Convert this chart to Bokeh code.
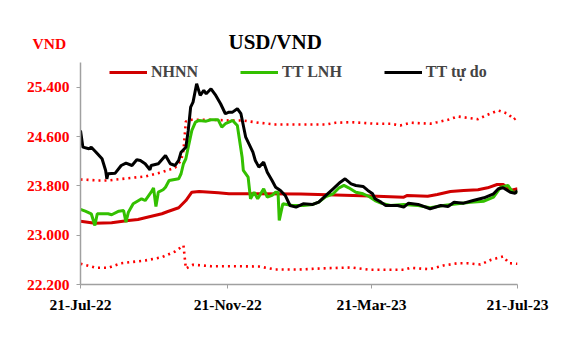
import pandas as pd
from bokeh.plotting import figure
from bokeh.models import FixedTicker, Legend, LegendItem, Range1d, Title
from bokeh.embed import file_html
from bokeh.resources import INLINE

START = "2022-07-21"

# NHNN (central rate)
nhnn_dates = ["2022-07-21", "2022-08-02", "2022-08-16", "2022-08-30", "2022-09-07", "2022-09-13",
              "2022-09-27", "2022-10-02", "2022-10-11", "2022-10-17", "2022-10-22", "2022-10-28",
              "2022-11-13", "2022-11-22", "2023-01-21", "2023-03-20", "2023-04-17", "2023-04-20",
              "2023-05-07", "2023-05-15", "2023-05-26", "2023-06-06", "2023-06-18", "2023-06-26",
              "2023-07-04", "2023-07-09", "2023-07-15", "2023-07-21"]
nhnn_vals = [23227, 23194, 23201, 23238, 23254, 23282, 23347, 23384, 23444, 23562, 23697, 23708,
             23687, 23671, 23668, 23635, 23616, 23644, 23632, 23660, 23708, 23725, 23736, 23768,
             23822, 23822, 23725, 23752]

# Upper band (dotted)
upper_dates = ["2022-07-21", "2022-08-05", "2022-08-13", "2022-08-30", "2022-09-13", "2022-09-27",
               "2022-10-08", "2022-10-13", "2022-10-15", "2022-10-17", "2022-10-22", "2022-11-07",
               "2022-11-22", "2022-12-03", "2022-12-17", "2022-12-31", "2023-02-11", "2023-02-19",
               "2023-03-04", "2023-03-24", "2023-04-06", "2023-04-14", "2023-04-23", "2023-05-09",
               "2023-05-15", "2023-05-24", "2023-06-01", "2023-06-09", "2023-06-18", "2023-06-26",
               "2023-07-05", "2023-07-13", "2023-07-18", "2023-07-21"]
upper_vals = [23903, 23887, 23887, 23924, 23952, 24022, 24093, 24211, 24373, 24844, 24871, 24871,
              24860, 24860, 24823, 24795, 24795, 24823, 24832, 24807, 24807, 24779, 24823, 24807,
              24832, 24871, 24925, 24904, 24881, 24953, 25022, 24969, 24876, 24925]

# Lower band (dotted)
lower_dates = ["2022-07-21", "2022-08-03", "2022-08-13", "2022-08-24", "2022-09-13", "2022-09-27",
               "2022-10-08", "2022-10-15", "2022-10-17", "2022-10-23", "2022-11-07", "2022-11-22",
               "2022-12-17", "2022-12-31", "2023-01-19", "2023-02-11", "2023-03-04", "2023-03-20",
               "2023-04-17", "2023-04-23", "2023-05-08", "2023-05-20", "2023-06-01", "2023-06-09",
               "2023-06-20", "2023-06-29", "2023-07-09", "2023-07-14", "2023-07-21"]
lower_vals = [22536, 22471, 22471, 22545, 22589, 22643, 22735, 22833, 22460, 22520, 22497, 22497,
              22492, 22443, 22443, 22464, 22476, 22438, 22438, 22471, 22448, 22508, 22545, 22545,
              22524, 22601, 22654, 22545, 22536]

# TT LNH (interbank)
lnh_dates = ["2022-07-21", "2022-07-25", "2022-07-30", "2022-08-02", "2022-08-04", "2022-08-13",
             "2022-08-16", "2022-08-22", "2022-08-26", "2022-08-28", "2022-08-30", "2022-09-03",
             "2022-09-10", "2022-09-13", "2022-09-18", "2022-09-20", "2022-09-22", "2022-09-24",
             "2022-09-28", "2022-09-30", "2022-10-03", "2022-10-11", "2022-10-13", "2022-10-15",
             "2022-10-17", "2022-10-19", "2022-10-22", "2022-10-25", "2022-10-28", "2022-11-03",
             "2022-11-07", "2022-11-13", "2022-11-16", "2022-11-19", "2022-11-22", "2022-11-25",
             "2022-11-29", "2022-12-03", "2022-12-04", "2022-12-08", "2022-12-10", "2022-12-13",
             "2022-12-16", "2022-12-21", "2022-12-24", "2022-12-28", "2022-12-31", "2023-01-02",
             "2023-01-03", "2023-01-06", "2023-01-14", "2023-01-23", "2023-01-31", "2023-02-05",
             "2023-02-11", "2023-02-17", "2023-02-22", "2023-02-26", "2023-03-02", "2023-03-08",
             "2023-03-14", "2023-03-19", "2023-03-24", "2023-03-29", "2023-04-06", "2023-04-17",
             "2023-04-29", "2023-05-09", "2023-05-20", "2023-06-01", "2023-06-12", "2023-06-23",
             "2023-07-01", "2023-07-07", "2023-07-13", "2023-07-17", "2023-07-21"]
lnh_vals = [23417, 23389, 23347, 23157, 23347, 23347, 23331, 23389, 23400, 23211, 23373, 23509,
            23590, 23562, 23697, 23765, 23465, 23697, 23736, 23778, 23887, 23914, 23996, 24158,
            24239, 24427, 24698, 24832, 24860, 24849, 24871, 24871, 24751, 24807, 24832, 24860,
            24779, 24265, 24049, 23940, 23590, 23697, 23590, 23752, 23616, 23644, 23697, 23697,
            23238, 23509, 23481, 23481, 23498, 23535, 23627, 23671, 23768, 23806, 23768, 23697,
            23671, 23627, 23562, 23519, 23481, 23498, 23481, 23444, 23481, 23509, 23535, 23551,
            23616, 23778, 23806, 23697, 23697]

# TT tu do (free market)
free_dates = ["2022-07-21", "2022-07-23", "2022-07-28", "2022-07-30", "2022-08-03", "2022-08-08",
              "2022-08-11", "2022-08-12", "2022-08-13", "2022-08-19", "2022-08-24", "2022-08-28",
              "2022-09-02", "2022-09-06", "2022-09-09", "2022-09-13", "2022-09-17", "2022-09-18",
              "2022-09-24", "2022-09-30", "2022-10-04", "2022-10-08", "2022-10-11", "2022-10-13",
              "2022-10-17", "2022-10-19", "2022-10-21", "2022-10-23", "2022-10-26", "2022-10-29",
              "2022-11-01", "2022-11-03", "2022-11-07", "2022-11-11", "2022-11-15", "2022-11-19",
              "2022-11-22", "2022-11-25", "2022-11-29", "2022-12-02", "2022-12-06", "2022-12-12",
              "2022-12-14", "2022-12-17", "2022-12-21", "2022-12-24", "2022-12-28", "2022-12-31",
              "2023-01-04", "2023-01-08", "2023-01-12", "2023-01-17", "2023-01-23", "2023-01-31",
              "2023-02-05", "2023-02-11", "2023-02-17", "2023-02-23", "2023-02-27", "2023-03-04",
              "2023-03-08", "2023-03-14", "2023-03-18", "2023-03-22", "2023-03-24", "2023-03-29",
              "2023-04-02", "2023-04-12", "2023-04-17", "2023-04-21", "2023-04-29", "2023-05-09",
              "2023-05-18", "2023-05-24", "2023-05-29", "2023-06-06", "2023-06-14", "2023-06-23",
              "2023-07-01", "2023-07-05", "2023-07-09", "2023-07-15", "2023-07-19", "2023-07-21"]
free_vals = [24698, 24427, 24401, 24427, 24346, 24239, 24049, 23914, 23996, 24005, 24130, 24168,
             24130, 24223, 24211, 24158, 24060, 24130, 24158, 24292, 24158, 24130, 24211, 24346,
             24427, 24698, 25076, 25157, 25455, 25266, 25347, 25293, 25374, 25266, 25131, 24969,
             24995, 24995, 25050, 24969, 24589, 24346, 24211, 24103, 24184, 24022, 23887, 23778,
             23725, 23644, 23481, 23454, 23509, 23498, 23535, 23644, 23752, 23859, 23914, 23833,
             23806, 23790, 23725, 23671, 23590, 23535, 23481, 23481, 23454, 23519, 23498, 23428,
             23481, 23465, 23535, 23519, 23562, 23606, 23671, 23752, 23768, 23697, 23681, 23725]

x_tick_dates = ["2022-07-21", "2022-11-21", "2023-03-21", "2023-07-21"]
x_tick_labels = ["21-Jul-22", "21-Nov-22", "21-Mar-23", "21-Jul-23"]
y_ticks = [22200, 23000, 23800, 24600, 25400]
y_tick_labels = ["22.200", "23.000", "23.800", "24.600", "25.400"]
title_text = "USD/VND"
unit_text = "VND"

t0 = pd.Timestamp(START)


def to_days(ds):
    return [(pd.Timestamp(d) - t0).days for d in ds]


FONT = "Liberation Serif"

p = figure(frame_width=437, frame_height=222, min_border_left=80, min_border_right=46,
           min_border_top=62, min_border_bottom=56, output_backend="svg",
           toolbar_location=None, x_range=Range1d(0, to_days([x_tick_dates[-1]])[0]),
           y_range=Range1d(22200, 25800))
p.outline_line_color = None
p.xgrid.visible = False
p.ygrid.visible = False
p.title.visible = False

# two titles in the top panel: main title (inner) and unit label (outer, pulled down)
t_main = Title(text=title_text, align="left", offset=148, standoff=18,
               text_font=FONT, text_font_style="bold", text_font_size="21px",
               text_color="#000000")
t_unit = Title(text=unit_text, align="left", offset=-48, standoff=-66,
               text_font=FONT, text_font_style="bold", text_font_size="15.5px",
               text_color="#FF0000")
p.add_layout(t_main, "above")
p.add_layout(t_unit, "above")

band_kw = dict(line_color="#FF0000", line_width=2.6, line_dash="2 4")
p.line(to_days(upper_dates), upper_vals, **band_kw)
p.line(to_days(lower_dates), lower_vals, **band_kw)
r1 = p.line(to_days(nhnn_dates), nhnn_vals, line_color="#D00000", line_width=3)
r2 = p.line(to_days(lnh_dates), lnh_vals, line_color="#33C000", line_width=3)
r3 = p.line(to_days(free_dates), free_vals, line_color="#000000", line_width=3)

# axes
for ax in (p.xaxis[0], p.yaxis[0]):
    ax.axis_line_color = "#A0A0A0"
    ax.axis_line_width = 1.5
    ax.major_tick_line_color = "#A0A0A0"
    ax.major_tick_out = 4
    ax.major_tick_in = 0
    ax.minor_tick_line_color = None
    ax.major_label_text_font = FONT
    ax.major_label_text_font_style = "bold"
    ax.major_label_text_font_size = "15.5px"

xt = to_days(x_tick_dates)
p.xaxis.ticker = FixedTicker(ticks=xt)
p.xaxis.major_label_overrides = dict(zip(xt, x_tick_labels))
p.xaxis.major_label_text_color = "#000000"
p.xaxis.major_label_standoff = 7

p.yaxis.ticker = FixedTicker(ticks=y_ticks)
p.yaxis.major_label_overrides = dict(zip(y_ticks, y_tick_labels))
p.yaxis.major_label_text_color = "#FF0000"
p.yaxis.major_label_standoff = 7

legend = Legend(items=[LegendItem(label="NHNN", renderers=[r1]),
                       LegendItem(label="TT LNH", renderers=[r2]),
                       LegendItem(label="TT tự do", renderers=[r3])],
                location=(29, 203), orientation="horizontal", spacing=42,
                glyph_width=38, glyph_height=16, label_height=16, label_standoff=4,
                padding=0, margin=0, border_line_color=None, background_fill_alpha=0,
                label_text_font=FONT, label_text_font_style="bold", label_text_font_size="16px")
p.add_layout(legend)

open("out.html", "w").write(file_html(p, INLINE))
